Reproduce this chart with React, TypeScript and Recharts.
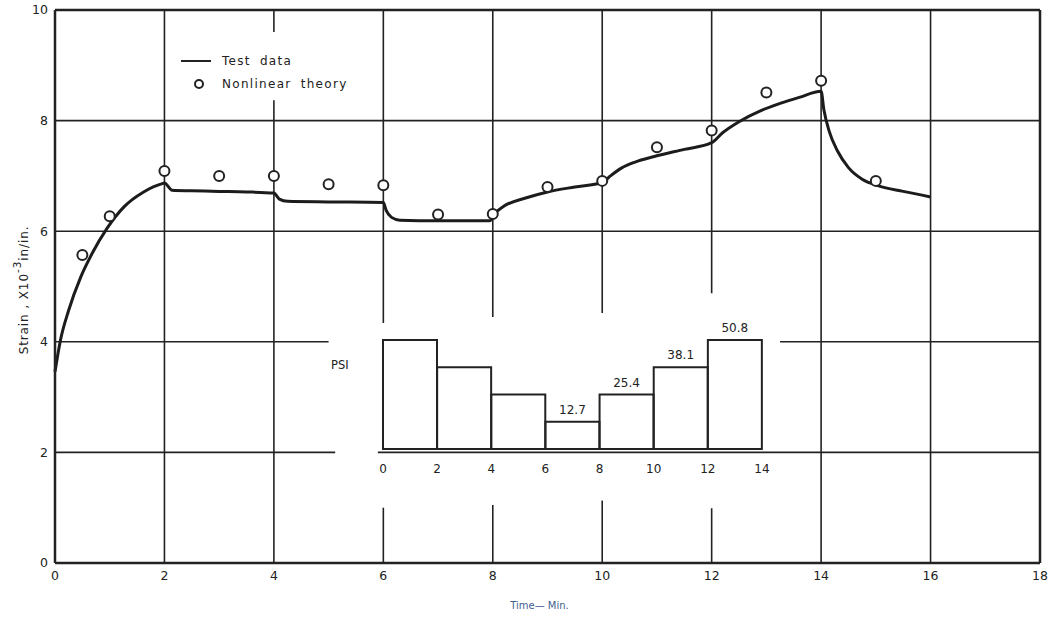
import React from 'react';
import {
  ComposedChart,
  Line,
  Scatter,
  Bar,
  XAxis,
  YAxis,
  ReferenceLine,
  Legend,
  LabelList,
} from 'recharts';

// test data (solid curve)
const testTime = [
  0, 0.1, 0.25, 0.47, 0.68, 0.95, 1.26, 1.62, 1.96, 2,
  2.14, 2.5, 3, 3.5, 4,
  4.1, 4.25, 5, 6,
  6.05, 6.15, 6.3, 7, 7.95,
  8.05, 8.2, 8.6, 9, 9.5, 10,
  10.15, 10.35, 10.6, 10.95, 11.5, 12,
  12.2, 12.5, 12.9, 13.25, 13.6, 14,
  14.05, 14.15, 14.3, 14.5, 14.75, 15.05, 15.5, 16,
];
const testStrain = [
  3.46, 4.03, 4.57, 5.17, 5.6, 6.05, 6.44, 6.71, 6.86, 6.87,
  6.74, 6.73, 6.72, 6.71, 6.69,
  6.58, 6.54, 6.53, 6.52,
  6.38, 6.25, 6.2, 6.19, 6.19,
  6.33, 6.45, 6.6, 6.71, 6.8, 6.88,
  7.0, 7.14, 7.25, 7.35, 7.48, 7.6,
  7.78, 7.98, 8.18, 8.31, 8.42, 8.53,
  8.2, 7.8, 7.45, 7.15, 6.94, 6.82, 6.72, 6.62,
];

// nonlinear theory (circles)
const theoryTime = [0.5, 1, 2, 3, 4, 5, 6, 7, 8, 9, 10, 11, 12, 13, 14, 15];
const theoryStrain = [
  5.57, 6.27, 7.09, 7.0, 7.0, 6.85, 6.83, 6.3, 6.31, 6.8, 6.91, 7.52, 7.82, 8.51, 8.72, 6.91,
];

// load history inset (psi per 2 min step)
const stepNames = ['0-2', '2-4', '4-6', '6-8', '8-10', '10-12', '12-14'];
const stepPsi = [50.8, 38.1, 25.4, 12.7, 25.4, 38.1, 50.8];
const stepLabels = [undefined, undefined, undefined, '12.7', '25.4', '38.1', '50.8'];

const xTicks = [0, 2, 4, 6, 8, 10, 12, 14, 16, 18];
const yTicks = [0, 2, 4, 6, 8, 10];
const insetTicks = ['0', '2', '4', '6', '8', '10', '12', '14'];

const testData = testTime.map((x, i) => ({ x, y: testStrain[i] }));
const theoryData = theoryTime.map((x, i) => ({ x, y: theoryStrain[i] }));
const insetData = stepNames.map((name, i) => ({ name, psi: stepPsi[i], tag: stepLabels[i] }));

const ink = '#222';
const font = 'DejaVu Sans, sans-serif';

// grid pieces, broken where the inset and legend sit: [pos, from, to]
const vGrid: [number, number, number][] = [
  [2, 0, 10],
  [4, 0, 8.37], [4, 9.6, 10],
  [6, 4.34, 10], [6, 0, 1.0],
  [8, 4.45, 10], [8, 0, 1.05],
  [10, 4.52, 10], [10, 0, 1.13],
  [12, 4.88, 10], [12, 0, 0.99],
  [14, 0, 10],
  [16, 0, 10],
];
const hGrid: [number, number, number][] = [
  [2, 0, 5.12], [2, 5.9, 18],
  [4, 0, 5.0], [4, 13.25, 18],
  [6, 0, 18],
  [8, 0, 18],
];

function YLabel() {
  const cx = 24;
  const cy = 290;
  return (
    <text
      x={cx}
      y={cy}
      transform={`rotate(-90 ${cx} ${cy})`}
      textAnchor="middle"
      dominantBaseline="middle"
      fontFamily={font}
      fontSize={12}
      letterSpacing={0.9}
      fill={ink}
    >
      Strain ,  X10
      <tspan dy={-6} fontSize={10.5}>-3</tspan>
      <tspan dy={6}>in/in.</tspan>
    </text>
  );
}

function LegendBox() {
  const txt = { fontFamily: font, fontSize: 12, letterSpacing: 1.3, wordSpacing: 4, fill: ink };
  return (
    <svg width={200} height={40} style={{ display: 'block' }}>
      <line x1={6} y1={6} x2={36} y2={6} stroke={ink} strokeWidth={2} />
      <text x={47} y={10} {...txt}>
        Test data
      </text>
      <circle cx={24} cy={29} r={4} fill="white" stroke={ink} strokeWidth={2} />
      <text x={47} y={33} {...txt}>
        Nonlinear theory
      </text>
    </svg>
  );
}

function Circle(props: any) {
  const { cx, cy } = props;
  return <circle cx={cx} cy={cy} r={5} fill="white" stroke={ink} strokeWidth={2} />;
}

// inset ticks sit on the step boundaries, not the band centres
function StepTick(props: any) {
  const { x, y, payload, index } = props;
  const half = payload && payload.offset ? payload.offset : 379 / 14;
  const style = { fill: ink, fontSize: 12, fontFamily: font };
  const last = index === stepNames.length - 1;
  return (
    <g>
      <text x={x - half} y={y} dy="0.71em" textAnchor="middle" {...style}>
        {insetTicks[index]}
      </text>
      {last && (
        <text x={x + half} y={y} dy="0.71em" textAnchor="middle" {...style}>
          {insetTicks[index + 1]}
        </text>
      )}
    </g>
  );
}

export default function App() {
  return (
    <div style={{ position: 'absolute', left: 0, top: 0, width: 1058, height: 621, background: 'white' }}>
      <ComposedChart
        width={1058}
        height={621}
        margin={{ top: 10, right: 18, bottom: 28, left: 14 }}
      >
        <XAxis
          dataKey="x"
          type="number"
          domain={[0, 18]}
          ticks={xTicks}
          height={30}
          axisLine={{ stroke: ink, strokeWidth: 2.5 }}
          tickLine={false}
          tickSize={4}
          tickMargin={4}
          tick={{ fill: ink, fontSize: 12.5, fontFamily: font }}
          label={{
            value: 'Time\u2014 Min.',
            position: 'bottom',
            offset: 9,
            dx: -8,
            fill: '#3f5f8f',
            fontSize: 10,
            fontFamily: font,
          }}
        />
        <YAxis
          type="number"
          domain={[0, 10]}
          ticks={yTicks}
          width={41}
          axisLine={{ stroke: ink, strokeWidth: 2.5 }}
          tickLine={false}
          tickSize={4}
          tickMargin={3}
          tick={{ fill: ink, fontSize: 12.5, fontFamily: font }}
          label={<YLabel />}
        />
        {vGrid.map(([x, a, b], i) => (
          <ReferenceLine
            key={`v${i}`}
            segment={[{ x, y: a }, { x, y: b }]}
            stroke={ink}
            strokeWidth={1.6}
          />
        ))}
        {hGrid.map(([y, a, b], i) => (
          <ReferenceLine
            key={`h${i}`}
            segment={[{ x: a, y }, { x: b, y }]}
            stroke={ink}
            strokeWidth={1.6}
          />
        ))}
        <ReferenceLine y={10} stroke={ink} strokeWidth={2.5} />
        <ReferenceLine x={18} stroke={ink} strokeWidth={2.5} />
        <Line
          data={testData}
          dataKey="y"
          type="monotone"
          stroke="#1c1c1c"
          strokeWidth={3}
          dot={false}
          activeDot={false}
          isAnimationActive={false}
          name="Test data"
        />
        <Scatter
          data={theoryData}
          dataKey="y"
          shape={<Circle />}
          isAnimationActive={false}
          name="Nonlinear theory"
        />
        <Legend
          layout="vertical"
          align="center"
          verticalAlign="middle"
          content={() => <LegendBox />}
          wrapperStyle={{ top: 55, left: 175, width: 200 }}
        />
      </ComposedChart>

      <div style={{ position: 'absolute', left: 363, top: 320 }}>
        <ComposedChart
          width={419}
          height={159}
          data={insetData}
          margin={{ top: 20, right: 20, bottom: 0, left: 20 }}
          barCategoryGap={0}
          barGap={0}
        >
          <XAxis
            dataKey="name"
            type="category"
            height={30}
            axisLine={false}
            tickLine={false}
            tickSize={0}
            tickMargin={15}
            interval={0}
            tick={<StepTick />}
          />
          <YAxis type="number" domain={[0, 50.8]} hide />
          <Bar
            dataKey="psi"
            fill="none"
            stroke={ink}
            strokeWidth={2}
            isAnimationActive={false}
          >
            <LabelList
              dataKey="tag"
              position="top"
              offset={8}
              fill={ink}
              fontSize={12}
              fontFamily={font}
            />
          </Bar>
        </ComposedChart>
      </div>

      <div
        style={{
          position: 'absolute',
          left: 331,
          top: 358,
          fontFamily: font,
          fontSize: 11.5,
          color: ink,
        }}
      >
        PSI
      </div>
    </div>
  );
}
